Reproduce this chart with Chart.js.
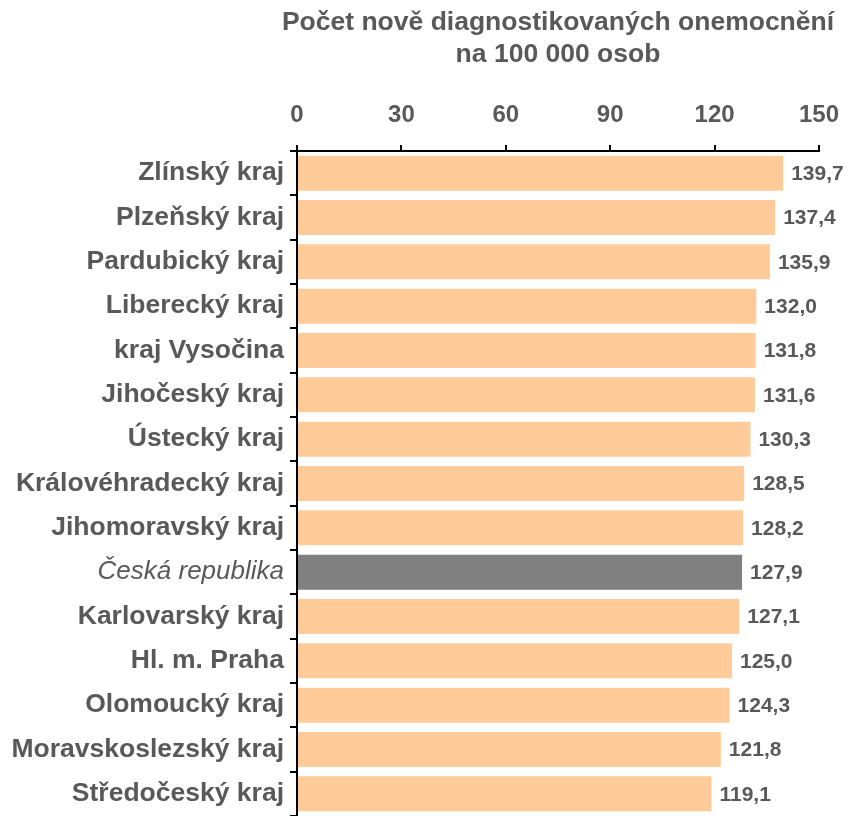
<!DOCTYPE html>
<html>
<head>
<meta charset="utf-8">
<script src="https://cdn.jsdelivr.net/npm/chart.js@4/dist/chart.umd.min.js"></script>
<style>
  body { margin: 0; background: #fff; }
</style>
</head>
<body>
<canvas id="chart" width="854" height="816"></canvas>
<script>
const regions = [
  'Zlínský kraj', 'Plzeňský kraj', 'Pardubický kraj', 'Liberecký kraj',
  'kraj Vysočina', 'Jihočeský kraj', 'Ústecký kraj', 'Královéhradecký kraj',
  'Jihomoravský kraj', 'Česká republika', 'Karlovarský kraj', 'Hl. m. Praha',
  'Olomoucký kraj', 'Moravskoslezský kraj', 'Středočeský kraj',
]
const incidence = [
  139.7, 137.4, 135.9, 132.0, 131.8, 131.6, 130.3, 128.5,
  128.2, 127.9, 127.1, 125.0, 124.3, 121.8, 119.1,
]
const axisTicks = [0, 30, 60, 90, 120, 150]
const titleLines = ['Počet nově diagnostikovaných onemocnění', 'na 100 000 osob']

const TEXT = '#595959'
const FONT = 'Arial, "Liberation Sans", sans-serif'
const nationalIdx = regions.indexOf('Česká republika')

// values printed at the end of each bar
const valueLabels = {
  id: 'valueLabels',
  afterDatasetsDraw(chart) {
    const ctx = chart.ctx
    const meta = chart.getDatasetMeta(0)
    ctx.save()
    ctx.font = 'bold 21px ' + FONT
    ctx.fillStyle = TEXT
    ctx.textAlign = 'left'
    ctx.textBaseline = 'middle'
    meta.data.forEach((bar, i) => {
      const txt = incidence[i].toFixed(1).replace('.', ',')
      ctx.fillText(txt, bar.x + 8, bar.y + 1)
    })
    ctx.restore()
  },
}

// axis caption, centred over the plot area (the built-in scale title gets squeezed)
const axisCaption = {
  id: 'axisCaption',
  afterDraw(chart) {
    const { ctx, chartArea } = chart
    const cx = (chartArea.left + chartArea.right) / 2
    ctx.save()
    ctx.font = 'bold 26.5px ' + FONT
    ctx.fillStyle = TEXT
    ctx.textAlign = 'center'
    ctx.textBaseline = 'middle'
    titleLines.forEach((line, i) => ctx.fillText(line, cx, 23 + i * 32))
    ctx.restore()
  },
}

new Chart(document.getElementById('chart').getContext('2d'), {
  type: 'bar',
  data: {
    labels: regions,
    datasets: [
      {
        data: incidence,
        backgroundColor: regions.map((r, i) => (i === nationalIdx ? '#808080' : '#FFCC99')),
        borderWidth: 0,
        barPercentage: 0.79,
        categoryPercentage: 1,
      },
    ],
  },
  options: {
    indexAxis: 'y',
    responsive: false,
    animation: false,
    layout: { padding: { left: 0, right: 28, top: 0, bottom: 0 } },
    scales: {
      x: {
        position: 'top',
        min: 0,
        max: 150,
        afterBuildTicks: (scale) => {
          scale.ticks = axisTicks.map((v) => ({ value: v }))
        },
        afterFit: (scale) => {
          scale.height = 151
        },
        grid: {
          drawOnChartArea: false,
          color: '#000',
          lineWidth: 2,
          tickLength: 6,
        },
        border: { display: true, color: '#000', width: 2 },
        ticks: {
          color: TEXT,
          font: { family: FONT, size: 24, weight: 'bold' },
          padding: 15,
          maxRotation: 0,
        },
      },
      y: {
        afterFit: (scale) => {
          scale.width = 297
          scale.paddingTop = 0
          scale.paddingBottom = 0
        },
        grid: {
          offset: true,
          drawOnChartArea: false,
          color: '#000',
          lineWidth: 2,
          tickLength: 7,
        },
        border: { display: true, color: '#000', width: 2 },
        ticks: {
          color: TEXT,
          padding: 6,
          font: (c) =>
            c.index === nationalIdx
              ? { family: FONT, size: 26, style: 'italic', weight: 'normal' }
              : { family: FONT, size: 26.5, weight: 'bold' },
        },
      },
    },
    plugins: {
      legend: { display: false },
      tooltip: { enabled: false },
    },
  },
  plugins: [valueLabels, axisCaption],
})
</script>
</body>
</html>
